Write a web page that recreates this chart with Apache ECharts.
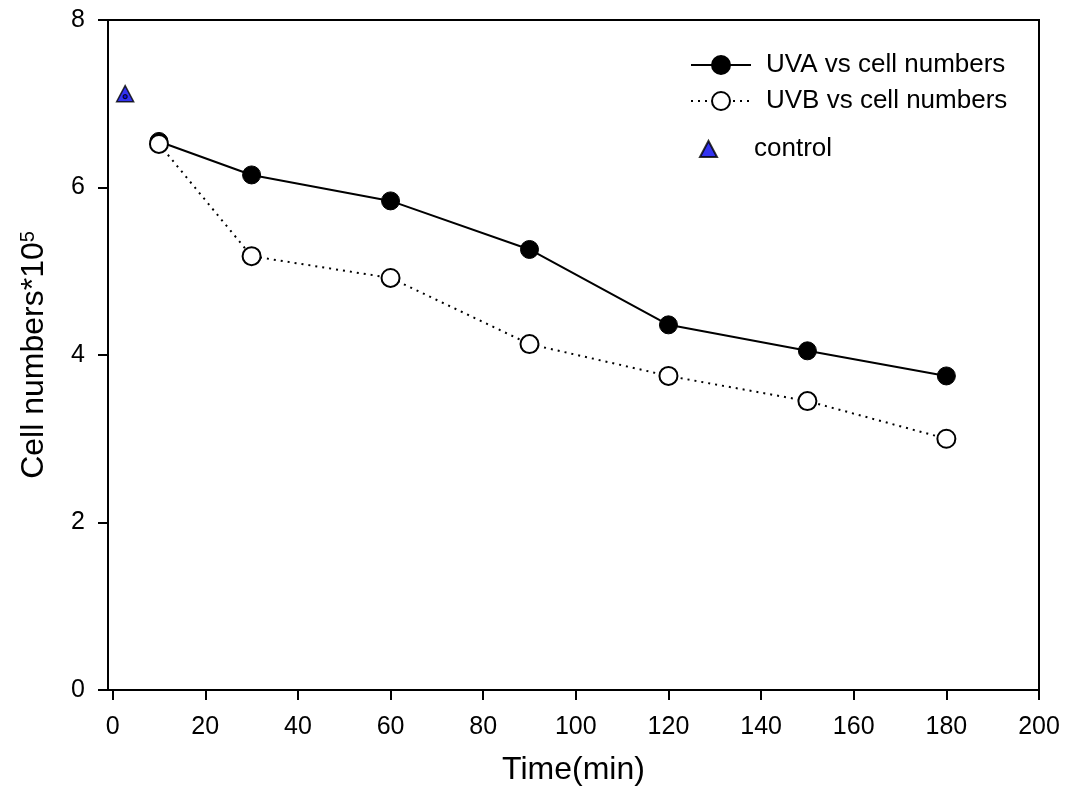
<!DOCTYPE html>
<html><head><meta charset="utf-8">
<script src="https://cdn.jsdelivr.net/npm/echarts@6/dist/echarts.min.js"></script>
<style>html,body{margin:0;padding:0;background:#fff}#c{width:1066px;height:803px}</style>
</head><body><div id="c"></div>
<script>
// ---- data ----
const xTicks = [0, 20, 40, 60, 80, 100, 120, 140, 160, 180, 200];
const times = [10, 30, 60, 90, 120, 150, 180];
const uva = [6.55, 6.15, 5.84, 5.26, 4.36, 4.05, 3.75];
const uvb = [6.52, 5.18, 4.92, 4.13, 3.75, 3.45, 3.00];
const controlTime = [2.7];
const controlValue = [7.12];
const seriesNames = ['UVA vs cell numbers', 'UVB vs cell numbers', 'control'];

const FONT = 'Liberation Sans, Arial, Helvetica, sans-serif';
const pairs = (xs, ys) => xs.map((x, i) => [x, ys[i]]);

const chart = echarts.init(document.getElementById('c'), null, {renderer: 'canvas'});
const legendText = {fontFamily: FONT, fontSize: 26, color: '#000'};
chart.setOption({
  animation: false,
  backgroundColor: '#fff',
  grid: {left: 108, right: 27, top: 20, bottom: 113, show: true, borderColor: '#000', borderWidth: 2, backgroundColor: 'transparent'},
  legend: [
    {data: [seriesNames[0]], left: 690, top: 52, padding: 0, itemWidth: 60, itemHeight: 22.5,
     textStyle: Object.assign({padding: [0, 0, 0, 10]}, legendText)},
    {data: [seriesNames[1]], left: 690, top: 88, padding: 0, itemWidth: 60, itemHeight: 22.5,
     textStyle: Object.assign({padding: [0, 0, 0, 10]}, legendText)},
    {data: [seriesNames[2]], left: 699, top: 136, padding: 0, itemWidth: 17, itemHeight: 16,
     textStyle: Object.assign({padding: [0, 0, 0, 32]}, legendText)}
  ],
  xAxis: {
    type: 'value', min: -1, max: 200,
    name: 'Time(min)', nameLocation: 'middle', nameGap: 64,
    nameTextStyle: {fontFamily: FONT, fontSize: 32, color: '#000'},
    axisLine: {show: true, onZero: false, lineStyle: {color: '#000', width: 2}},
    axisTick: {show: true, length: 10, customValues: xTicks, lineStyle: {color: '#000', width: 2}},
    axisLabel: {customValues: xTicks, margin: 25, fontFamily: FONT, fontSize: 25, color: '#000'},
    splitLine: {show: false}
  },
  yAxis: {
    type: 'value', min: 0, max: 8, interval: 2,
    name: '{a|Cell numbers*10}{b|5}', nameLocation: 'middle', nameGap: 58,
    nameTextStyle: {rich: {
      a: {fontFamily: FONT, fontSize: 32, color: '#000'},
      b: {fontFamily: FONT, fontSize: 20, color: '#000', verticalAlign: 'top'}
    }},
    axisLine: {show: true, onZero: false, lineStyle: {color: '#000', width: 2}},
    axisTick: {show: true, length: 10, lineStyle: {color: '#000', width: 2}},
    axisLabel: {margin: 23, fontFamily: FONT, fontSize: 25, color: '#000'},
    splitLine: {show: false}
  },
  series: [
    {name: seriesNames[0], type: 'line', data: pairs(times, uva),
     symbol: 'circle', symbolSize: 18,
     lineStyle: {color: '#000', width: 2},
     itemStyle: {color: '#000', borderColor: '#000', borderWidth: 1}},
    {name: seriesNames[1], type: 'line', data: pairs(times, uvb),
     symbol: 'circle', symbolSize: 18,
     lineStyle: {color: '#000', width: 2, type: [2, 5]},
     itemStyle: {color: '#fff', borderColor: '#000', borderWidth: 2}},
    {name: seriesNames[2], type: 'scatter', data: pairs(controlTime, controlValue),
     symbol: 'triangle', symbolSize: [17, 16],
     itemStyle: {color: '#0000EE', borderColor: '#000', borderWidth: 1.5}},
    {name: 'control-dot', type: 'scatter', data: pairs(controlTime, controlValue),
     symbol: 'circle', symbolSize: 4, symbolOffset: [0, 3], silent: true,
     itemStyle: {color: '#0000EE', borderColor: '#000', borderWidth: 1.2}}
  ]
});
</script></body></html>
